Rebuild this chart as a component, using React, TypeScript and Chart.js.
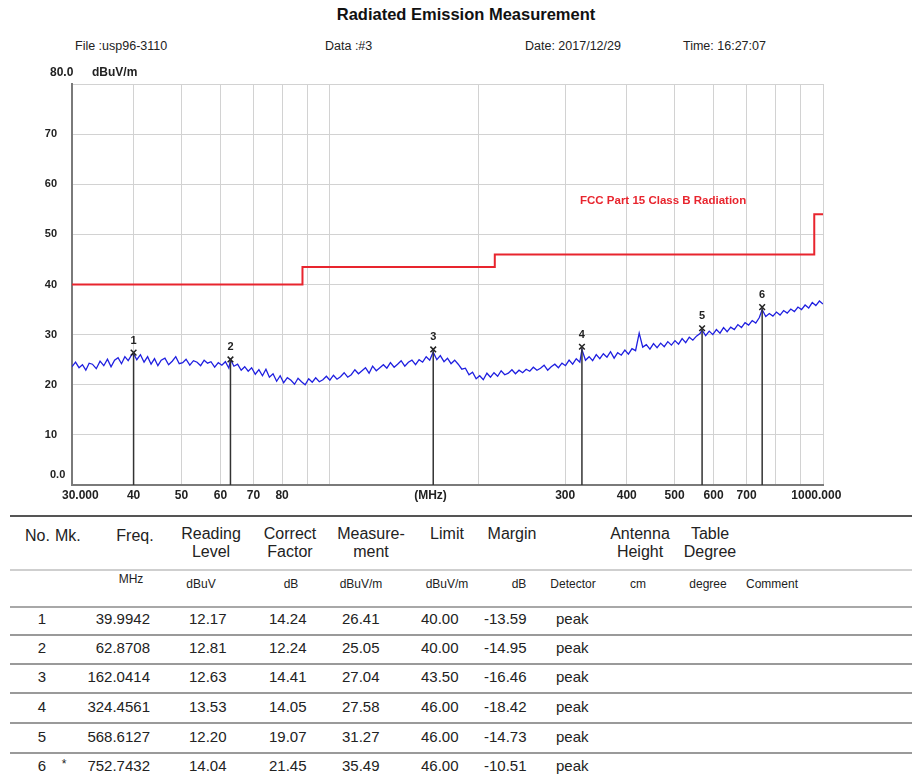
import React, { useEffect, useRef } from "react";
import { Chart, registerables } from "chart.js";
Chart.register(...registerables);

// ---- trace ----
const traceFreq = [
  30.0, 30.5, 31.0, 31.5, 32.0, 32.5, 33.0, 33.6, 34.2, 34.8,
  35.4, 36.0, 36.6, 37.2, 37.8, 38.4, 39.0, 39.6, 40.0, 40.6,
  41.3, 42.0, 42.7, 43.4, 44.1, 44.8, 45.5, 46.3, 47.1, 47.9,
  48.7, 49.5, 50.3, 51.1, 52.0, 52.9, 53.8, 54.7, 55.6, 56.5,
  57.4, 58.4, 59.4, 60.4, 61.4, 62.4, 62.9, 63.9, 65.0, 66.1,
  67.2, 68.3, 69.4, 70.6, 71.8, 73.0, 74.2, 75.4, 76.7, 78.0,
  79.3, 80.6, 82.0, 83.4, 84.8, 86.2, 87.6, 89.1, 90.6, 92.1,
  93.6, 95.2, 96.8, 98.4, 100.0, 101.7, 103.4, 105.1, 106.9, 108.7,
  110.5, 112.4, 114.3, 116.2, 118.1, 120.1, 122.1, 124.2, 126.3, 128.4,
  130.5, 132.7, 135.0, 137.2, 139.5, 141.9, 144.3, 146.7, 149.2, 151.7,
  154.2, 156.8, 159.4, 162.0, 164.8, 167.5, 170.4, 173.2, 176.1, 179.1,
  182.1, 185.2, 188.3, 191.5, 194.7, 198.0, 201.3, 204.7, 208.2, 211.7,
  215.2, 218.9, 222.5, 226.3, 230.1, 234.0, 237.9, 241.9, 246.0, 250.1,
  254.3, 258.6, 263.0, 267.4, 271.9, 276.5, 281.1, 285.9, 290.7, 295.6,
  300.5, 305.6, 310.7, 316.0, 321.3, 324.5, 329.9, 335.5, 341.1, 346.9,
  352.7, 358.6, 364.7, 370.8, 377.1, 383.4, 389.9, 396.5, 403.1, 409.9,
  416.8, 423.9, 431.0, 438.3, 445.7, 453.2, 460.8, 468.6, 476.5, 484.5,
  492.7, 501.0, 509.4, 518.0, 526.7, 535.6, 544.6, 553.8, 563.1, 568.6,
  578.2, 587.9, 597.8, 607.9, 618.2, 628.6, 639.2, 649.9, 660.9, 672.0,
  683.4, 694.9, 706.6, 718.5, 730.6, 742.9, 752.7, 765.4, 778.3, 791.4,
  804.7, 818.3, 832.1, 846.1, 860.4, 874.9, 889.6, 904.6, 919.8, 935.3,
  951.1, 967.1, 983.4, 1000.0,
];
const traceLevel = [
  23.6, 24.5, 23.4, 24.0, 22.9, 24.3, 24.1, 23.2, 24.7, 23.8,
  25.1, 23.6, 24.9, 25.4, 24.2, 25.6, 24.8, 25.9, 26.2, 25.0,
  26.0, 24.5, 25.6, 24.1, 25.2, 23.8, 24.9, 25.3, 24.0, 24.7,
  25.6, 24.2, 24.4, 25.1, 23.9, 24.8, 24.5, 23.8, 24.9, 24.3,
  24.6, 23.5, 24.4, 23.9, 24.6, 23.3, 25.0, 23.7, 24.1, 22.9,
  23.6, 22.7, 23.4, 22.1, 23.0, 21.8, 23.1, 21.5, 22.2, 20.7,
  21.8, 20.4, 21.4, 20.9, 20.1, 21.3, 20.6, 20.0, 21.2, 20.5,
  21.4, 20.6, 21.0, 21.7, 20.9, 21.9, 21.1, 21.6, 22.4, 21.5,
  22.0, 23.0, 22.2, 22.8, 23.4, 22.3, 23.7, 22.8, 23.4, 24.0,
  23.3, 24.4, 23.5, 24.1, 24.8, 23.7, 24.5, 24.9, 24.0, 25.0,
  24.5, 25.6, 24.9, 26.5, 25.0, 25.8, 24.6, 25.3, 24.2, 24.9,
  24.1, 23.1, 23.3, 22.0, 22.5, 21.2, 21.8, 21.0, 22.3, 21.5,
  22.4, 21.7, 22.8, 22.0, 22.3, 23.0, 22.2, 22.9, 22.4, 23.1,
  22.7, 23.5, 22.9, 23.3, 23.9, 22.9, 23.6, 24.1, 23.4, 24.3,
  23.8, 24.9, 24.1, 25.2, 24.5, 27.0, 24.9, 25.6, 24.8, 26.0,
  25.2, 26.2, 25.5, 26.6, 25.3, 26.4, 25.9, 26.9, 26.1, 27.2,
  26.8, 30.3, 27.5, 28.0, 27.1, 28.2, 27.4, 28.3, 27.6, 28.6,
  27.9, 28.8, 28.1, 29.2, 28.4, 29.5, 28.9, 29.7, 30.2, 30.9,
  29.8, 30.7, 30.0, 31.0, 30.3, 31.4, 30.6, 31.5, 31.0, 32.0,
  31.4, 32.4, 31.9, 32.8, 32.3, 33.4, 35.0, 33.6, 34.2, 33.7,
  34.5, 33.9, 34.8, 34.3, 35.1, 34.6, 35.5, 35.0, 35.9, 35.3,
  36.4, 35.8, 36.7, 36.1,
];

// ---- FCC Part 15 Class B limit ----
const limitFreq = [30, 88, 216, 960, 1000];
const limitLevel = [40, 43.5, 46, 54, 54];

// ---- markers / table ----
const markerNo = ["1", "2", "3", "4", "5", "6"];
const markerMk = ["", "", "", "", "", "*"];
const markerFreq = [39.9942, 62.8708, 162.0414, 324.4561, 568.6127, 752.7432];
const readingLevel = ["12.17", "12.81", "12.63", "13.53", "12.20", "14.04"];
const correctFactor = ["14.24", "12.24", "14.41", "14.05", "19.07", "21.45"];
const measurement = [26.41, 25.05, 27.04, 27.58, 31.27, 35.49];
const limitValue = ["40.00", "40.00", "43.50", "46.00", "46.00", "46.00"];
const marginValue = ["-13.59", "-14.95", "-16.46", "-18.42", "-14.73", "-10.51"];
const detector = ["peak", "peak", "peak", "peak", "peak", "peak"];

// ---- axes ----
const xTickValues = [30, 40, 50, 60, 70, 80, 90, 100, 160, 200, 300, 400, 500, 600, 700, 800, 900, 1000];
const xTickLabels = ["     30.000", "40", "50", "60", "70", "80", "", "", "(MHz)", "", "300", "400", "500", "600", "700", "", "", "1000.000    "];
const yTickValues = [0, 10, 20, 30, 40, 50, 60, 70, 80];
const yTickLabels = ["", "10", "20", "30", "40", "50", "60", "70", ""];

const FONT = '"Liberation Sans", Arial, sans-serif';

const markerPlugin = {
  id: "markerPlugin",
  afterDatasetsDraw(chart: any) {
    const ctx = chart.ctx;
    const area = chart.chartArea;
    const meta = chart.getDatasetMeta(2);
    ctx.save();
    meta.data.forEach((pt: any, i: number) => {
      ctx.strokeStyle = "#333";
      ctx.lineWidth = 1.5;
      ctx.beginPath();
      ctx.moveTo(pt.x, pt.y);
      ctx.lineTo(pt.x, area.bottom);
      ctx.stroke();
      ctx.fillStyle = "#222";
      ctx.font = "bold 11px " + FONT;
      ctx.textAlign = "center";
      ctx.textBaseline = "middle";
      ctx.fillText(markerNo[i], pt.x, pt.y - 12);
    });
    // corner labels
    ctx.fillStyle = "#222";
    ctx.textAlign = "left";
    ctx.font = "bold 12px " + FONT;
    ctx.fillText("80.0", area.left - 22, area.top - 11);
    ctx.fillText("dBuV/m", area.left + 20, area.top - 11);
    ctx.font = "bold 11px " + FONT;
    ctx.fillText("0.0", area.left - 22, area.bottom - 10);
    ctx.fillStyle = "#e8252e";
    ctx.font = "bold 11.5px " + FONT;
    ctx.fillText("FCC Part 15 Class B Radiation", area.left + 508, area.top + 117);
    ctx.restore();
  },
};

function ChartBox() {
  const ref = useRef<HTMLCanvasElement | null>(null);
  useEffect(() => {
    if (!ref.current) return;
    const chart = new Chart(ref.current, {
      type: "line",
      data: {
        datasets: [
          {
            label: "trace",
            data: traceFreq.map((f, i) => ({ x: f, y: traceLevel[i] })),
            borderColor: "#1f1fe0",
            borderWidth: 1.3,
            pointRadius: 0,
            tension: 0,
            order: 1,
          },
          {
            label: "limit",
            data: limitFreq.map((f, i) => ({ x: f, y: limitLevel[i] })),
            borderColor: "#e8252e",
            borderWidth: 2,
            pointRadius: 0,
            stepped: "before",
            order: 2,
          },
          {
            label: "markers",
            data: markerFreq.map((f, i) => ({ x: f, y: measurement[i] })),
            showLine: false,
            pointStyle: "crossRot",
            pointRadius: 4,
            borderColor: "#222",
            borderWidth: 1.5,
            order: 0,
          },
        ],
      } as any,
      options: {
        animation: false,
        responsive: false,
        events: [],
        layout: { padding: { left: 0, right: 89, top: 84, bottom: 5 } },
        plugins: { legend: { display: false }, tooltip: { enabled: false } },
        scales: {
          x: {
            type: "logarithmic",
            min: 30,
            max: 1000,
            afterBuildTicks: (scale: any) => {
              scale.ticks = xTickValues.map((v) => ({ value: v }));
            },
            afterFit: (scale: any) => {
              scale.height = 20;
            },
            ticks: {
              autoSkip: false,
              maxRotation: 0,
              padding: 3,
              color: "#222",
              font: { family: FONT, size: 12, weight: "bold" },
              callback: (v: any) => {
                const i = xTickValues.indexOf(Number(v));
                return i >= 0 ? xTickLabels[i] : "";
              },
            },
            grid: {
              drawTicks: false,
              color: (c: any) => (c.tick && c.tick.value === 160 ? "rgba(0,0,0,0)" : "#d2d2d2"),
              lineWidth: 1,
            },
            border: { color: "#7a7a7a", width: 2 },
          },
          y: {
            type: "linear",
            min: 0,
            max: 80,
            afterBuildTicks: (scale: any) => {
              scale.ticks = yTickValues.map((v) => ({ value: v }));
            },
            afterFit: (scale: any) => {
              scale.width = 72;
            },
            ticks: {
              padding: 15,
              color: "#222",
              font: { family: FONT, size: 11, weight: "bold" },
              callback: (v: any) => {
                const i = yTickValues.indexOf(Number(v));
                return i >= 0 ? yTickLabels[i] : "";
              },
            },
            grid: { drawTicks: false, color: "#d2d2d2", lineWidth: 1 },
            border: { color: "#7a7a7a", width: 2 },
          },
        },
      } as any,
      plugins: [markerPlugin],
    });
    return () => chart.destroy();
  }, []);
  return (
    <canvas
      ref={ref}
      width={912}
      height={510}
      style={{ position: "absolute", left: 0, top: 0, width: 912, height: 510 }}
    />
  );
}

function T(props: {
  x: number;
  y: number;
  align?: "left" | "center" | "right";
  size?: number;
  weight?: string;
  color?: string;
  lh?: number;
  children: React.ReactNode;
}) {
  const { x, y, align = "left", size = 15, weight = "normal", color = "#222", lh } = props;
  const lineH = lh ?? Math.round(size * 1.2);
  const tx = align === "center" ? "translateX(-50%)" : align === "right" ? "translateX(-100%)" : "none";
  return (
    <div
      style={{
        position: "absolute",
        left: x,
        top: y - lineH / 2,
        lineHeight: lineH + "px",
        fontSize: size,
        fontWeight: weight as any,
        color,
        fontFamily: FONT,
        whiteSpace: "pre",
        textAlign: align,
        transform: tx,
      }}
    >
      {props.children}
    </div>
  );
}

function HLine(props: { y: number; color: string; h?: number }) {
  return (
    <div
      style={{
        position: "absolute",
        left: 10,
        width: 902,
        top: props.y,
        height: props.h ?? 2,
        background: props.color,
      }}
    />
  );
}

export default function App() {
  const rowY = [619, 648, 677, 707, 737, 766];
  const sepY = [634, 663, 692, 722, 752];
  return (
    <div style={{ position: "absolute", left: 0, top: 0, width: 912, height: 780, background: "#fff", overflow: "hidden" }}>
      <T x={466} y={14} align="center" size={16.5} weight="bold" color="#111">Radiated Emission Measurement</T>
      <T x={75} y={46} size={12.5}>File :usp96-3110</T>
      <T x={325} y={46} size={12.5}>Data :#3</T>
      <T x={525} y={46} size={12.5}>Date: 2017/12/29</T>
      <T x={683} y={46} size={12.5}>Time: 16:27:07</T>
      <ChartBox />

      <HLine y={515} color="#555" h={2} />
      <T x={25} y={535} size={16}>No.</T>
      <T x={55} y={535} size={16}>Mk.</T>
      <T x={135} y={535} align="center" size={16}>Freq.</T>
      <T x={211} y={533} align="center" size={16}>Reading</T>
      <T x={211} y={551} align="center" size={16}>Level</T>
      <T x={290} y={533} align="center" size={16}>Correct</T>
      <T x={290} y={551} align="center" size={16}>Factor</T>
      <T x={371} y={533} align="center" size={16}>Measure-</T>
      <T x={371} y={551} align="center" size={16}>ment</T>
      <T x={447} y={533} align="center" size={16}>Limit</T>
      <T x={512} y={533} align="center" size={16}>Margin</T>
      <T x={640} y={533} align="center" size={16}>Antenna</T>
      <T x={640} y={551} align="center" size={16}>Height</T>
      <T x={710} y={533} align="center" size={16}>Table</T>
      <T x={710} y={551} align="center" size={16}>Degree</T>

      <HLine y={569} color="#cfcfcf" h={2} />
      <T x={131} y={579} align="center" size={12}>MHz</T>
      <T x={201} y={584} align="center" size={12}>dBuV</T>
      <T x={291} y={584} align="center" size={12}>dB</T>
      <T x={361} y={584} align="center" size={12}>dBuV/m</T>
      <T x={447} y={584} align="center" size={12}>dBuV/m</T>
      <T x={519} y={584} align="center" size={12}>dB</T>
      <T x={573} y={584} align="center" size={12}>Detector</T>
      <T x={638} y={584} align="center" size={12}>cm</T>
      <T x={708} y={584} align="center" size={12}>degree</T>
      <T x={772} y={584} align="center" size={12}>Comment</T>
      <HLine y={606} color="#a8a8a8" h={2} />

      {markerNo.map((n, i) => (
        <React.Fragment key={n}>
          <T x={42} y={rowY[i]} align="center">{n}</T>
          <T x={64} y={rowY[i] - 2} align="center" size={12}>{markerMk[i]}</T>
          <T x={150} y={rowY[i]} align="right">{markerFreq[i].toFixed(4)}</T>
          <T x={189} y={rowY[i]}>{readingLevel[i]}</T>
          <T x={269} y={rowY[i]}>{correctFactor[i]}</T>
          <T x={342} y={rowY[i]}>{measurement[i].toFixed(2)}</T>
          <T x={421} y={rowY[i]}>{limitValue[i]}</T>
          <T x={484} y={rowY[i]}>{marginValue[i]}</T>
          <T x={556} y={rowY[i]}>{detector[i]}</T>
        </React.Fragment>
      ))}
      {sepY.map((y) => (
        <HLine key={y} y={y} color="#9a9a9a" h={2} />
      ))}
    </div>
  );
}
